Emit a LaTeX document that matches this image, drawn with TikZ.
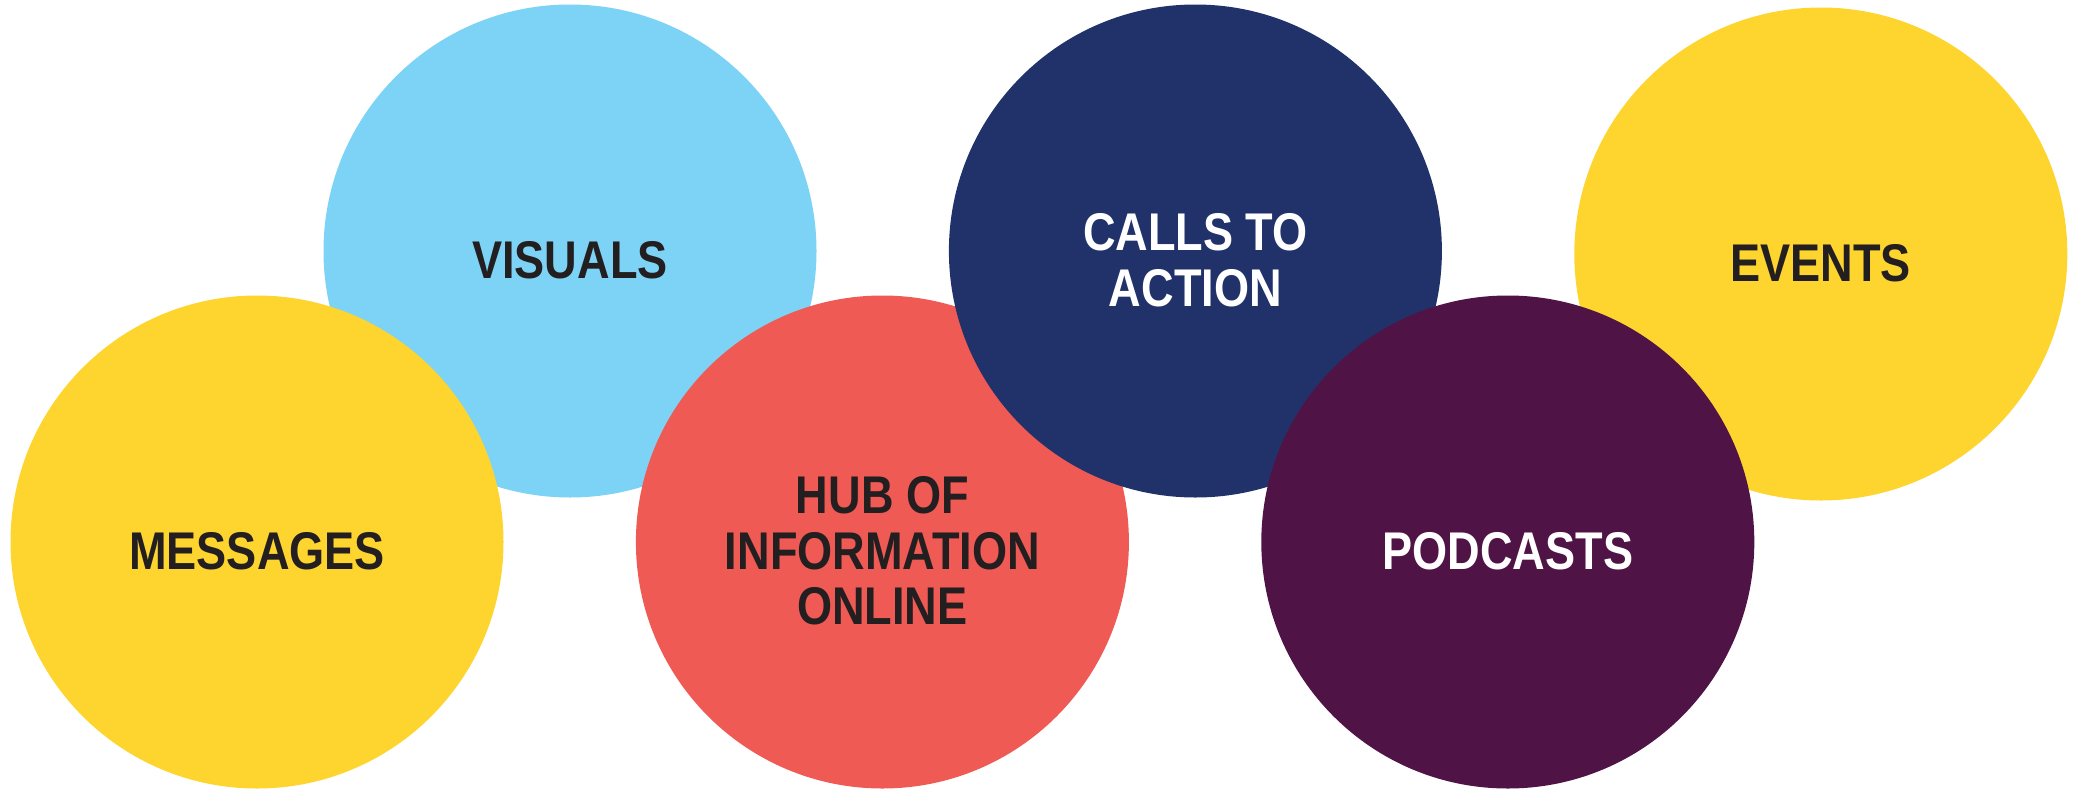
\documentclass[tikz,border=0pt]{standalone}
\usepackage{fontspec}
\usepackage{graphicx}
\newfontfamily\bubblefont{Liberation Sans Bold}
\newcommand{\squeezed}[1]{\scalebox{0.85}[1]{#1}}
\usepackage{xcolor}
\definecolor{SkyBlue}{HTML}{7DD3F5}
\definecolor{SunYellow}{HTML}{FED42E}
\definecolor{NavyBlue}{HTML}{21326A}
\definecolor{CoralRed}{HTML}{F05A55}
\definecolor{PlumPurple}{HTML}{501345}
\definecolor{InkBlack}{HTML}{231F20}
\usepackage{tikz}
\usetikzlibrary{positioning}
\tikzset{
  % Circle styles
  bubble/.style={circle, draw=none, minimum size=4.93cm, inner sep=0pt},
  % Text styles
  bubbletext/.style={font={\bubblefont\fontsize{15.1}{15.85}\selectfont}, text=InkBlack, align=center, inner sep=0pt},
  lighttext/.style={bubbletext, text=white}
}

\begin{document}
\begin{tikzpicture}
  \useasboundingbox (0,0) rectangle (20.78,7.90);

  % Top row and bottom row, back to front
  \node[bubble, fill=SkyBlue] (visuals) at (5.70,5.39) {};
  \node[bubble, fill=SunYellow] (messages) at (2.57,2.48) {};
  \node[bubble, fill=CoralRed, right=1.31cm of messages] (hub) {};
  \node[bubble, fill=NavyBlue, right=1.31cm of visuals] (calls) {};
  \node[bubble, fill=SunYellow, right=1.31cm of calls, yshift=-0.03cm] (events) {};
  \node[bubble, fill=PlumPurple, right=1.31cm of hub] (podcasts) {};

  % Labels
  \node[bubbletext] (visuals-label) at ([yshift=-0.09cm]visuals.center) {\squeezed{VISUALS}};
  \node[bubbletext] (messages-label) at ([yshift=-0.09cm]messages.center) {\squeezed{MESSAGES}};
  \node[bubbletext] (hub-label) at ([yshift=-0.09cm]hub.center) {\squeezed{HUB OF}\\\squeezed{INFORMATION}\\\squeezed{ONLINE}};
  \node[lighttext] (calls-label) at ([yshift=-0.09cm]calls.center) {\squeezed{CALLS TO}\\\squeezed{ACTION}};
  \node[bubbletext] (events-label) at ([yshift=-0.09cm]events.center) {\squeezed{EVENTS}};
  \node[lighttext] (podcasts-label) at ([yshift=-0.09cm]podcasts.center) {\squeezed{PODCASTS}};
\end{tikzpicture}
\end{document}
